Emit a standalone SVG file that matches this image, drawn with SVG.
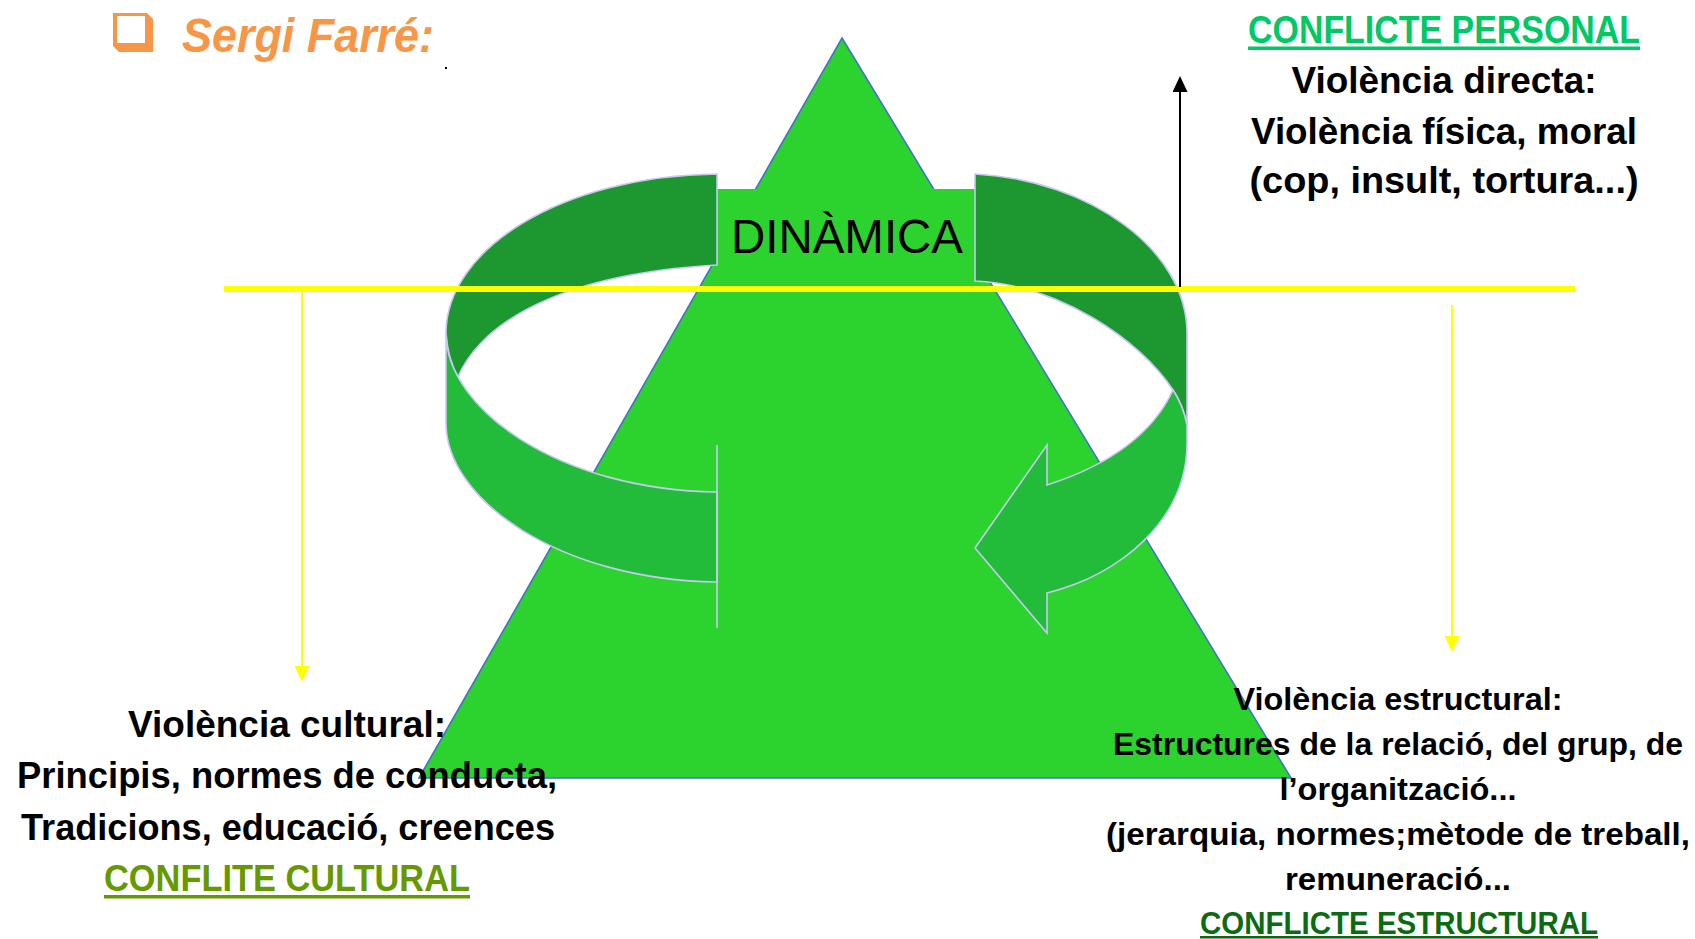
<svg xmlns="http://www.w3.org/2000/svg" width="1695" height="939" viewBox="0 0 1695 939">
<style>
.t{font-family:"Liberation Sans",Arial,sans-serif;font-weight:bold;fill:#000;text-anchor:middle}
.ring{stroke:#c8c8f2;stroke-width:1.6;stroke-linejoin:miter}
.dark{fill:#1d9830}
.light{fill:#22bb3a}
</style>
<defs>
<marker id="ay" viewBox="0 0 16 15" markerWidth="16" markerHeight="15" refX="6" refY="7.5" orient="auto" markerUnits="userSpaceOnUse"><path d="M0,0 L16,7.5 L0,15 Z" fill="#ffff00"/></marker>
<marker id="ab" viewBox="0 0 16 15" markerWidth="16" markerHeight="15" refX="6" refY="7.5" orient="auto" markerUnits="userSpaceOnUse"><path d="M0,0 L16,7.5 L0,15 Z" fill="#000"/></marker>
</defs>
<rect width="1695" height="939" fill="#fff"/>

<g id="title">
<path d="M113,13 L147,13 L153,19 L153,52 L119,52 L113,46 Z" fill="#f79646"/>
<rect x="117" y="16" width="28" height="27" fill="#fff"/>
<text x="182" y="52" font-family="'Liberation Sans',Arial,sans-serif" font-weight="bold" font-style="italic" font-size="48" fill="#f79646" textLength="252" lengthAdjust="spacingAndGlyphs">Sergi Farré:</text>
<rect x="445" y="67" width="2" height="2" fill="#000"/>
</g>

<g id="triangle">
<polygon points="842,38 1291,778 419,778" fill="#2cd22e" stroke="#4472c4" stroke-width="1.6"/>
</g>

<g id="dinamica">
<rect x="717" y="189" width="258" height="80" fill="#2cd22e"/>
<text x="847" y="253" font-family="'Liberation Sans',Arial,sans-serif" font-size="48" text-anchor="middle" fill="#000" textLength="232" lengthAdjust="spacingAndGlyphs">DINÀMICA</text>
</g>

<g id="ring">
<path class="ring dark" d="M717,174 C560,176 446,250 446,333 Q448,360 458,377 C475,335 540,275 717,265 Z"/>
<path class="ring light" d="M446,333 C446,410 560,490 717,492 L717,582 C560,580 446,500 446,423 Z"/>
<line x1="717" y1="445" x2="717" y2="628" stroke="#c8c8f2" stroke-width="1.6"/>
<path class="ring dark" d="M975,174 C1090,180 1187,250 1187,333 L1187,425 Q1183,405 1173,390 C1140,340 1060,285 975,281 Z"/>
<path class="ring light" d="M1173,390 Q1183,405 1187,425 L1187,443 C1187,520 1120,575 1047,593 L1047,633 L975,548 L1047,445 L1047,485 C1100,468 1150,440 1173,390 Z"/>
</g>

<g id="connectors">
<line x1="224" y1="289" x2="1575" y2="289" stroke="#ffff00" stroke-width="6"/>
<line x1="302" y1="292" x2="302" y2="672" stroke="#ffff00" stroke-width="2" marker-end="url(#ay)"/>
<line x1="1452" y1="305" x2="1452" y2="642" stroke="#ffff00" stroke-width="2" marker-end="url(#ay)"/>
<line x1="1180" y1="287" x2="1180" y2="86" stroke="#000" stroke-width="2" marker-end="url(#ab)"/>
</g>

<g id="personal">
<text class="t" x="1444" y="43" font-size="38" style="fill:#00c864" textLength="392" lengthAdjust="spacingAndGlyphs">CONFLICTE PERSONAL</text>
<rect x="1248" y="46.5" width="392" height="3.5" fill="#00c864"/>
<text class="t" x="1444" y="93" font-size="37" textLength="305" lengthAdjust="spacingAndGlyphs">Violència directa:</text>
<text class="t" x="1444" y="144" font-size="37" textLength="386" lengthAdjust="spacingAndGlyphs">Violència física, moral</text>
<text class="t" x="1444" y="193" font-size="37" textLength="389" lengthAdjust="spacingAndGlyphs">(cop, insult, tortura...)</text>
</g>

<g id="cultural">
<text class="t" x="287" y="737" font-size="36" textLength="318" lengthAdjust="spacingAndGlyphs">Violència cultural:</text>
<text class="t" x="287" y="788" font-size="36" textLength="540" lengthAdjust="spacingAndGlyphs">Principis, normes de conducta,</text>
<text class="t" x="288" y="840" font-size="36" textLength="534" lengthAdjust="spacingAndGlyphs">Tradicions, educació, creences</text>
<text class="t" x="287" y="891" font-size="36" style="fill:#669900" textLength="366" lengthAdjust="spacingAndGlyphs">CONFLITE CULTURAL</text>
<rect x="104" y="895" width="366" height="3.5" fill="#669900"/>
</g>

<g id="estructural">
<text class="t" x="1398" y="710" font-size="32" textLength="329" lengthAdjust="spacingAndGlyphs">Violència estructural:</text>
<text class="t" x="1398" y="755" font-size="32" textLength="570" lengthAdjust="spacingAndGlyphs">Estructures de la relació, del grup, de</text>
<text class="t" x="1398" y="800" font-size="32" textLength="237" lengthAdjust="spacingAndGlyphs">l’organització...</text>
<text class="t" x="1398" y="845" font-size="32" textLength="584" lengthAdjust="spacingAndGlyphs">(jerarquia, normes;mètode de treball,</text>
<text class="t" x="1398" y="890" font-size="32" textLength="226" lengthAdjust="spacingAndGlyphs">remuneració...</text>
<text class="t" x="1399" y="934" font-size="32" style="fill:#0a6b12" textLength="398" lengthAdjust="spacingAndGlyphs">CONFLICTE ESTRUCTURAL</text>
<rect x="1200" y="936" width="398" height="2.5" fill="#0a6b12"/>
</g>
</svg>
